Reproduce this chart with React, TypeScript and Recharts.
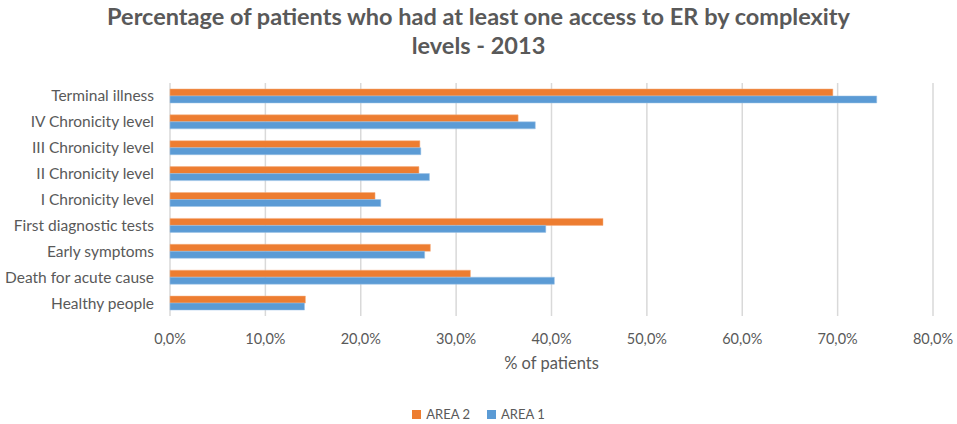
import { Bar, BarChart, CartesianGrid, XAxis, YAxis } from 'recharts'

const categories = [
  'Terminal illness',
  'IV Chronicity level',
  'III Chronicity level',
  'II Chronicity level',
  'I Chronicity level',
  'First diagnostic tests',
  'Early symptoms',
  'Death for acute cause',
  'Healthy people',
]
const area2 = [69.5, 36.5, 26.2, 26.1, 21.5, 45.4, 27.3, 31.5, 14.2]
const area1 = [74.1, 38.3, 26.3, 27.2, 22.1, 39.4, 26.7, 40.3, 14.1]
const xTicks = [0, 10, 20, 30, 40, 50, 60, 70, 80]

const font = 'Lato, "Open Sans", sans-serif'
const textColor = '#595959'

const data = categories.map((name, i) => ({ name, area2: area2[i], area1: area1[i] }))

function ChartLegend() {
  const items = [
    { label: 'AREA 2', color: '#ed7d31' },
    { label: 'AREA 1', color: '#5b9bd5' },
  ]
  return (
    <div
      style={{
        position: 'absolute',
        left: 0,
        top: 404,
        width: 957,
        display: 'flex',
        justifyContent: 'center',
        gap: 17,
        fontFamily: font,
        fontSize: 13,
        lineHeight: '20px',
        color: textColor,
      }}
    >
      {items.map((item) => (
        <span key={item.label} style={{ display: 'flex', alignItems: 'center', gap: 5 }}>
          <span style={{ width: 9, height: 9, background: item.color, display: 'inline-block' }} />
          {item.label}
        </span>
      ))}
    </div>
  )
}

export default function App() {
  return (
    <div style={{ position: 'absolute', left: 0, top: 0, width: 957, height: 424, background: '#fff' }}>
      <div
        style={{
          position: 'absolute',
          left: 0,
          top: 2,
          width: 957,
          textAlign: 'center',
          fontFamily: font,
          fontWeight: 700,
          fontSize: 23.5,
          lineHeight: '29px',
          color: textColor,
        }}
      >
        Percentage of patients who had at least one access to ER by complexity
        <br />
        levels - 2013
      </div>
      <BarChart
        width={957}
        height={424}
        data={data}
        layout="vertical"
        margin={{ top: 83, right: 24, bottom: 78, left: 0 }}
        barCategoryGap="23%"
        barGap={0}
      >
        <CartesianGrid horizontal={false} stroke="#d9d9d9" strokeWidth={1.5} />
        <XAxis
          type="number"
          domain={[0, 80]}
          ticks={xTicks}
          tickFormatter={(v) => `${Number(v).toFixed(1).replace('.', ',')}%`}
          axisLine={false}
          tickLine={false}
          tickSize={0}
          tickMargin={18}
          tick={{ fill: textColor, fontSize: 14.5, fontFamily: font }}
          label={{ value: '% of patients', position: 'bottom', offset: 11, fill: textColor, fontSize: 16.5, fontFamily: font }}
        />
        <YAxis
          type="category"
          dataKey="name"
          width={170}
          axisLine={false}
          tickLine={false}
          tickSize={0}
          tickMargin={16}
          interval={0}
          tick={{ fill: textColor, fontSize: 15.5, fontFamily: font }}
        />
        <Bar dataKey="area2" name="AREA 2" fill="#ed7d31" stroke="#f4b183" strokeWidth={0.5} isAnimationActive={false} />
        <Bar dataKey="area1" name="AREA 1" fill="#5b9bd5" stroke="#9dc3e6" strokeWidth={0.5} isAnimationActive={false} />
      </BarChart>
      <ChartLegend />
    </div>
  )
}
